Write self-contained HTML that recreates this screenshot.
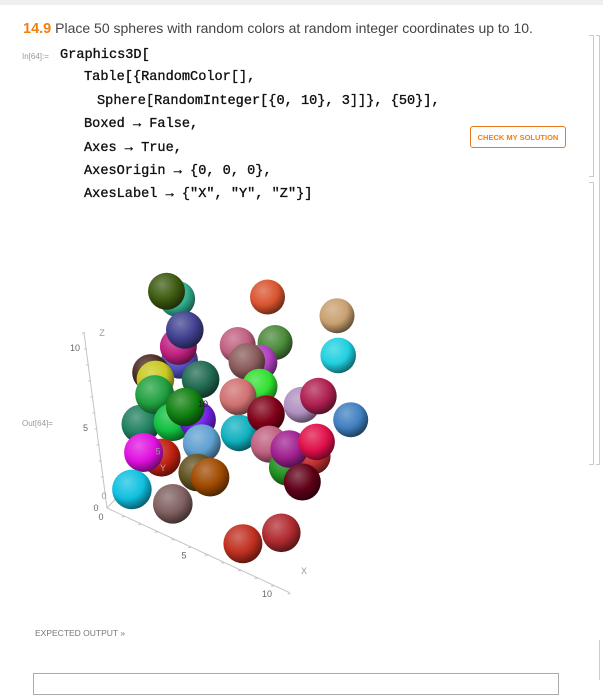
<!DOCTYPE html>
<html><head><meta charset="utf-8">
<style>
body{margin:0;width:603px;height:680px;background:#fff;position:relative;overflow:hidden;font-family:"Liberation Sans",sans-serif;}
.abs{position:absolute;}
.code{position:absolute;font-family:"Liberation Mono",monospace;font-size:13.6px;color:#111;white-space:pre;line-height:16px;-webkit-text-stroke:0.35px #111;}
.lbl{position:absolute;font-size:8px;color:#999;}
</style></head><body>
<div class="abs" style="left:0;top:0;width:603px;height:5px;background:#efefef"></div>
<div class="abs" style="left:23px;top:20px;font-size:14px;color:#444;white-space:nowrap"><b style="color:#f08010;font-size:14.5px">14.9</b> Place 50 spheres with random colors at random integer coordinates up to 10.</div>
<div class="lbl" style="left:22px;top:52px">In[64]:=</div>
<div class="code" style="left:60px;top:48px">Graphics3D[</div>
<div class="code" style="left:84px;top:70px">Table[{RandomColor[],</div>
<div class="code" style="left:97px;top:94px">Sphere[RandomInteger[{0, 10}, 3]]}, {50}],</div>
<div class="code" style="left:84px;top:117px">Boxed → False,</div>
<div class="code" style="left:84px;top:141px">Axes → True,</div>
<div class="code" style="left:84px;top:164px">AxesOrigin → {0, 0, 0},</div>
<div class="code" style="left:84px;top:187px">AxesLabel → {"X", "Y", "Z"}]</div>
<div class="abs" style="left:470px;top:126px;width:96px;height:22px;border:1px solid #e87a1a;border-radius:3px;color:#f08010;font-size:7.5px;font-weight:bold;text-align:center;line-height:22px;box-sizing:border-box">CHECK MY SOLUTION</div>
<div class="abs" style="left:589px;top:35px;width:4px;height:140px;border:1px solid #ccc;border-left:none"></div>
<div class="abs" style="left:589px;top:182px;width:4px;height:281px;border:1px solid #ccc;border-left:none"></div>
<div class="abs" style="left:596px;top:35px;width:3px;height:428px;border:1px solid #ccc;border-left:none"></div>
<div class="lbl" style="left:22px;top:419px">Out[64]=</div>
<div class="abs" style="left:35px;top:628px;font-size:8.5px;color:#777">EXPECTED OUTPUT »</div>
<div class="abs" style="left:33px;top:673px;width:524px;height:20px;border:1px solid #aaa"></div>
<div class="abs" style="left:589px;top:640px;width:10px;height:40px;border-right:1px solid #ccc"></div>

<svg class="abs" style="left:0;top:0" width="603" height="680" id="plot"></svg>
<script>
// data (x, y, z) of each sphere, back to front
const xs=[5.5,9.8,10.2,1.0,1.7,5.6,4.5,5.1,5.6,1.3,2.0,3.2,0.0,0.9,4.9,3.8,5.4,8.1,9.9,9.8,0.9,2.7,2.3,2.6,3.9,4.5,7.7,7.0,7.3,9.0,8.9,9.4,8.8,4.0,1.3,1.5,2.8,4.9,1.1,3.6,7.1,9.0];
const ys=[10,10,9,8,6,10,8,9,7,7,6,5,6,5,9,5,6,8,7,10,3,2,4,6,3,7,5,6,7,7,5,7,6,4,4,2,5,3,1,1,2,3];
const zs=[9.9,10.8,9.1,8.8,10.8,7.1,7.6,6.2,7.7,5.7,7.5,9.7,4.9,5.5,4.6,6.9,6.0,5.6,7.6,4.3,3.9,7.2,4.1,3.2,6.4,2.7,6.6,3.8,1.9,3.4,5.0,4.5,2.3,3.6,1.4,3.0,0.6,2.5,1.1,1.4,0,1.0];
const colors=["#d9542f","#c8a070","#20d0e0","#30b090","#3d5a10","#4a8a3a","#c06080","#b040c0","#8a5a5a","#5050c0","#c02080","#404090","#4a2a20","#c8c820","#30e030","#206a50","#d07070","#b090c0","#b02050","#4080c0","#208060","#20a040","#10c040","#7020e0","#108010","#10b0c0","#800018","#c06080","#209020","#c03030","#a02090","#e0104a","#600018","#60a0d0","#c02010","#e010e0","#605020","#a04a00","#10c0e0","#806060","#c03020","#b02a30"];
const xTicks=[0,5,10], yTicks=[0,5,10], zTicks=[0,5,10];

const O=[107,508], EX=[16.6,7.7], EY=[9,-9.5], EZ=[-2.1,-16];
function P(x,y,z){return [O[0]+x*EX[0]+y*EY[0]+z*EZ[0], O[1]+x*EX[1]+y*EY[1]+z*EZ[1]];}
const svg=document.getElementById('plot'), NS='http://www.w3.org/2000/svg';
function mk(t,a){const e=document.createElementNS(NS,t);for(const k in a)e.setAttribute(k,a[k]);return e;}
function mix(h,t,f){const n=parseInt(h.slice(1),16);let r=n>>16,g=(n>>8)&255,b=n&255;const T=t?255:0;r=Math.round(r+(T-r)*f);g=Math.round(g+(T-g)*f);b=Math.round(b+(T-b)*f);return 'rgb('+r+','+g+','+b+')';}
const defs=mk('defs',{});svg.appendChild(defs);
function axis(v,name){const a=P(0,0,0),b=P(v[0]*11,v[1]*11,v[2]*11);const l=mk('line',{x1:a[0],y1:a[1],x2:b[0],y2:b[1],stroke:'#c4c4c4','stroke-width':1});


svg.appendChild(l);
for(let i=1;i<=11;i++){const p=P(v[0]*i,v[1]*i,v[2]*i);const t=mk('line',{x1:p[0]-2,y1:p[1]+1,x2:p[0]+1,y2:p[1]+1,stroke:'#c4c4c4','stroke-width':1});


svg.appendChild(t);}}
axis([1,0,0],'x-axis');axis([0,1,0],'y-axis');axis([0,0,1],'z-axis');
function txt(s,x,y,name,c){const t=mk('text',{x:x,y:y,'font-size':9,fill:c||'#666','font-family':'Liberation Sans, sans-serif','text-anchor':'middle'});t.textContent=s;


svg.appendChild(t);}
xTicks.forEach(v=>{const p=P(v,0,0);txt(String(v),p[0]-6,p[1]+12,'x-tick-label');});
zTicks.forEach(v=>{const p=P(0,0,v);txt(String(v),p[0]-11,p[1]+3,'z-tick-label');});
txt('X',304,574,'x-axis-title','#999');txt('Z',102,336,'z-axis-title','#999');
xs.forEach((x,i)=>{const p=P(x,ys[i],zs[i]);const r=20-0.25*ys[i];
const g=mk('radialGradient',{id:'g'+i,cx:'0.38',cy:'0.32',r:'0.75'});
g.appendChild(mk('stop',{offset:'0','stop-color':mix(colors[i],1,0.3)}));
g.appendChild(mk('stop',{offset:'0.55','stop-color':colors[i]}));
g.appendChild(mk('stop',{offset:'1','stop-color':mix(colors[i],0,0.6)}));
defs.appendChild(g);
const c=mk('circle',{cx:p[0].toFixed(1),cy:p[1].toFixed(1),r:r.toFixed(1),fill:'url(#g'+i+')'});


svg.appendChild(c);});
yTicks.forEach(v=>{const p=P(0,v,0);txt(String(v),p[0]+(v?6:-3),p[1]-(v?6:9),'y-tick-label',v==10?'#222':'#999');});
txt('Y',163,471,'y-axis-title','#aaa');
</script>
</body></html>
